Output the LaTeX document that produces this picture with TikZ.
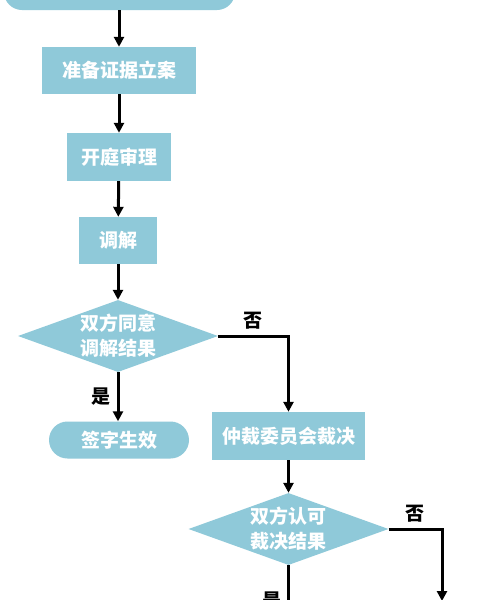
\documentclass[tikz,border=0pt]{standalone}
\usepackage{fontspec}
\newfontfamily\cjk{Noto Sans CJK SC}
\usetikzlibrary{shapes.geometric,shapes.misc,arrows.meta}
\definecolor{boxblue}{RGB}{143,201,217}
\tikzset{
  x=1pt,y=1pt,
  base/.style={fill=boxblue,draw=none,text=white,inner sep=0pt,align=center,font=\cjk\bfseries\fontsize{19}{25}\selectfont},
  procbox/.style={base,rectangle},
  termbox/.style={base,rounded rectangle},
  decbox/.style={base,diamond,aspect=2.78,minimum width=200pt,minimum height=72pt},
  flow/.style={line width=3pt,-{Triangle[length=10pt,width=10pt]}},
  flowline/.style={line width=3pt},
  yesno/.style={font=\cjk\bfseries\fontsize{19}{20}\selectfont,text=black,inner sep=2pt}
}
\begin{document}
\begin{tikzpicture}
\useasboundingbox (0,0) rectangle (481,-600);
\clip (0,0) rectangle (481,-600);
\fill[white] (0,0) rectangle (481,-600);
\node[base,rectangle,rounded corners=18pt,minimum width=231pt,minimum height=40pt] (n0) at (119.5,10) {};
\node[procbox,minimum width=154pt,minimum height=47pt] (n1) at (119,-70.5) {准备证据立案};
\node[procbox,minimum width=104pt,minimum height=48pt] (n2) at (119,-157) {开庭审理};
\node[procbox,minimum width=78pt,minimum height=47pt] (n3) at (118,-240.5) {调解};
\node[decbox] (d1) at (118,-336) {双方同意\\调解结果};
\node[termbox,minimum width=140pt,minimum height=37pt] (s1) at (119,-440) {签字生效};
\node[procbox,minimum width=153pt,minimum height=48pt] (n4) at (288.5,-436) {仲裁委员会裁决};
\node[decbox] (d2) at (288.5,-529) {双方认可\\裁决结果};
\coordinate (c1) at (442,-601);
\coordinate (c2) at (288.5,-612);
\draw[flow] (n0.south -| n1.north) -- (n1.north);
\draw[flow] (n1) -- (n2);
\draw[flow] (n2) -- (n3);
\draw[flow] (n3) -- (d1);
\draw[flow] (d1.south) -- node[yesno,left=4pt] {是} (d1.south |- s1.north);
\draw[flow] (d1.east) -| node[yesno,above=3pt,pos=0.25] {否} (n4.north);
\draw[flow] (n4) -- (d2);
\draw[flow] (d2.east) -| node[yesno,above=3pt,pos=0.25] {否} (c1);
\draw[flowline] (d2.south) -- node[yesno,left=4pt,pos=0.75] {是} (c2);
\end{tikzpicture}
\end{document}
